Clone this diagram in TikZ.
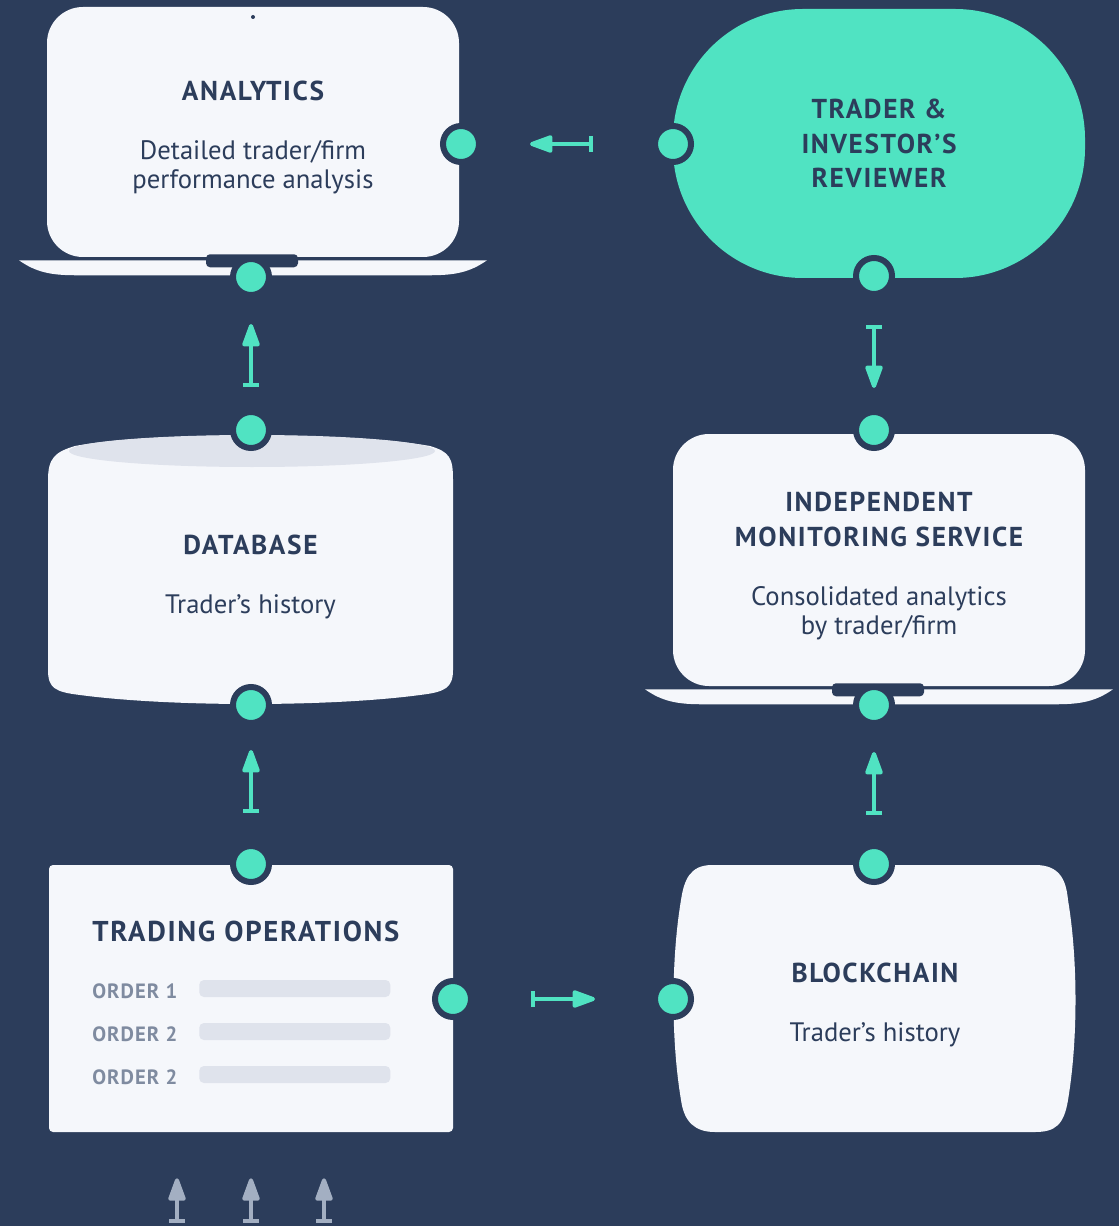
\documentclass[tikz,border=0pt]{standalone}
\usepackage{fontspec}
\setmainfont{PT Sans}
\usepackage{xcolor}
\usetikzlibrary{arrows.meta, positioning}

\definecolor{navy}{HTML}{2C3D5B}
\definecolor{mint}{HTML}{50E3C2}
\definecolor{paper}{HTML}{F5F7FB}
\definecolor{pale}{HTML}{DFE3EC}
\definecolor{muted}{HTML}{7F8BA0}
\definecolor{feedgray}{HTML}{A3AFC2}

\newcommand{\heading}{\fontsize{20.5}{26}\selectfont\bfseries\addfontfeatures{LetterSpace=6}}
\newcommand{\ordfont}{\fontsize{15.5}{16}\selectfont\bfseries\addfontfeatures{LetterSpace=5}}

\begin{document}
\begin{tikzpicture}[x=0.75pt, y=-0.75pt,
screen/.style={rectangle, fill=paper, rounded corners=27pt, minimum width=309pt},
caption/.style={align=center, text=navy, inner sep=0pt, font=\fontsize{20}{21.75}\selectfont},
plain/.style={rectangle, minimum width=303pt, minimum height=201pt},
port/.style={circle, fill=mint, draw=navy, line width=4.5pt, minimum size=27pt, inner sep=0pt, outer sep=0pt},
flow/.style={draw=mint, line width=3pt, arrows={Bar[width=12pt]-Triangle[length=20pt,width=13.5pt,round]}},
feed/.style={draw=feedgray, line width=3pt, arrows={Bar[width=12pt]-Triangle[length=20pt,width=13.5pt,round]}},
orderbar/.style={rectangle, fill=pale, rounded corners=3.5pt, minimum width=143.25pt, minimum height=12.75pt, inner sep=0pt}
]
	\fill[navy] (0,0) rectangle (1119,1226);
	\useasboundingbox (0,0) rectangle (1119,1226);

	% laptops
	\node[screen, minimum height=187.5pt] (analytics) at (253,132) {};
	\node[screen, minimum height=189pt] (monitor) at (879,560) {};
	\foreach \scr in {analytics, monitor} {
		\begin{scope}[shift={(\scr.south)}]
			\fill[paper] (-234,3) -- (234,3) .. controls (217,15) and (202,18) .. (177,18) -- (-177,18) .. controls (-202,18) and (-217,15) .. (-234,3) -- cycle;
			\fill[navy, rounded corners=3pt] (-47,-3) rectangle (45,10);
		\end{scope}
	}
	\fill[navy] (253,17) circle [radius=2];
	\node[caption] (analyticsText) at (253,137.5) {{\heading ANALYTICS}\\[22.5pt]Detailed trader/firm\\performance analysis};
	\node[caption] (monitorText) at (879,566) {{\heading INDEPENDENT}\\[4pt]{\heading MONITORING SERVICE}\\[22.5pt]Consolidated analytics\\by trader/firm};

	% reviewer
	\node[rectangle, fill=mint, rounded corners=97.5pt, minimum width=309pt, minimum height=201.75pt, align=center, text=navy, font=\heading] (trader) at (879,143.5) {TRADER \&\\INVESTOR’S\\REVIEWER};

	% database
	\fill[paper] (48,480) .. controls (48,458) and (55,452) .. (75,446) .. controls (150,432) and (350,432) .. (430,446) .. controls (450,452) and (453,458) .. (453,480) -- (453,670) .. controls (453,688) and (445,692) .. (420,695) .. controls (330,707) and (170,707) .. (80,695) .. controls (55,692) and (48,688) .. (48,670) -- cycle;
	\fill[pale] (252,451) ellipse [x radius=183, y radius=16];
	\node[plain] (database) at (250.5,571) {};
	\node[caption] (databaseText) at (250.5,577) {{\heading DATABASE}\\[22.5pt]Trader’s history};

	% blockchain
	\fill[paper] (712,865) -- (1035,865) .. controls (1060,865) and (1066,880) .. (1068,900) .. controls (1078,960) and (1078,1040) .. (1068,1100) .. controls (1064,1125) and (1055,1132) .. (1035,1132) -- (715,1132) .. controls (695,1132) and (684,1122) .. (681,1100) .. controls (671,1040) and (671,960) .. (681,900) .. controls (684,880) and (690,865) .. (712,865) -- cycle;
	\node[plain] (blockchain) at (875,998.5) {};
	\node[caption] (blockchainText) at (875,1005) {{\heading BLOCKCHAIN}\\[22.5pt]Trader’s history};

	% trading operations
	\node[rectangle, fill=paper, rounded corners=3pt, minimum width=303pt, minimum height=200.25pt] (trading) at (251,998.5) {};
	\node[anchor=base west, inner sep=0pt, text=navy, font={\heading\fontsize{21.5}{26}\selectfont}] (opsTitle) at (92,941) {TRADING OPERATIONS};
	\foreach \y/\lbl [count=\i] in {991/ORDER 1, 1034/ORDER 2, 1077/ORDER 2} {
		\node[anchor=base west, inner sep=0pt, text=muted, font=\ordfont] (ord\i) at (92,\y+7) {\lbl};
		\node[orderbar, anchor=west] (bar\i) at (199,\y-2.5) {};
	}

	% ports
	\node[port] (anaE) at (461,144) {};
	\node[port] (anaS) at (251,277) {};
	\node[port] (trdW) at (673,144) {};
	\node[port] (trdS) at (874,276) {};
	\node[port] (dbN) at (251,430) {};
	\node[port] (dbS) at (251,705) {};
	\node[port] (monN) at (874,430) {};
	\node[port] (monS) at (874,705) {};
	\node[port] (opsN) at (251,864) {};
	\node[port] (opsE) at (453,999) {};
	\node[port] (bcN) at (874,864) {};
	\node[port] (bcW) at (673,999) {};

	% connectors
	\draw[flow, shorten <=60pt, shorten >=51.75pt] (trdW.center) -- (anaE.center);
	\draw[flow, shorten <=32.25pt, shorten >=35.25pt] (dbN.center) -- (anaS.center);
	\draw[flow, shorten <=36.75pt, shorten >=31.5pt] (trdS.center) -- (monN.center);
	\draw[flow, shorten <=38.25pt, shorten >=33.75pt] (opsN.center) -- (dbS.center);
	\draw[flow, shorten <=36.75pt, shorten >=35.25pt] (bcN.center) -- (monS.center);
	\draw[flow, shorten <=58.5pt, shorten >=58.5pt] (opsE.center) -- (bcW.center);
	\foreach \x [count=\i] in {177,251,324} {
		\coordinate (in\i) at (\x,1223);
		\draw[feed, shorten >=34.5pt] (in\i) -- (in\i |- trading.south);
	}
\end{tikzpicture}
\end{document}
